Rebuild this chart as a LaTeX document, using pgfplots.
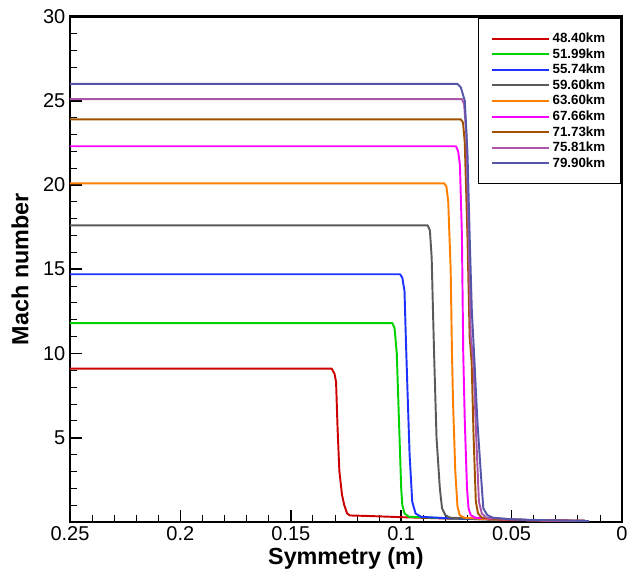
\documentclass[border=0pt]{standalone}
\usepackage{pgfplots}
\pgfplotsset{compat=1.18}
\usepackage{fontspec}
\setmainfont{Liberation Sans}
\definecolor{cA}{RGB}{204,0,0}
\definecolor{cB}{RGB}{0,210,0}
\definecolor{cC}{RGB}{30,50,255}
\definecolor{cD}{RGB}{90,90,90}
\definecolor{cE}{RGB}{255,128,0}
\definecolor{cF}{RGB}{255,0,255}
\definecolor{cG}{RGB}{160,80,0}
\definecolor{cH}{RGB}{170,85,170}
\definecolor{cI}{RGB}{85,85,170}
\begin{document}
\begin{tikzpicture}
\useasboundingbox (-52.5pt,-37.5pt) rectangle (417.75pt,391.4pt);
\begin{axis}[
  at={(0,0)}, anchor=south west,
  scale only axis, width=414pt, height=379pt,
  x dir=reverse,
  xmin=0, xmax=0.25, ymin=0, ymax=30,
  xtick={0,0.05,0.1,0.15,0.2,0.25},
  xticklabels={0,0.05,0.1,0.15,0.2,0.25},
  minor xtick={0.01,0.02,0.03,0.04,0.06,0.07,0.08,0.09,0.11,0.12,0.13,0.14,0.16,0.17,0.18,0.19,0.21,0.22,0.23,0.24},
  ytick={5,10,15,20,25,30},
  minor ytick={1,2,3,4,6,7,8,9,11,12,13,14,16,17,18,19,21,22,23,24,26,27,28,29},
  xtick pos=bottom, ytick pos=left,
  tick align=inside,
  major tick length=9pt, minor tick length=5pt,
  every major tick/.style={line width=1.3pt, black},
  every minor tick/.style={line width=0.6pt, black},
  axis line style={line width=1.6pt},
  tick label style={font=\fontsize{15}{17}\selectfont},
  /pgf/number format/assume math mode=true,
  xlabel={Symmetry (m)},
  ylabel={Mach number},
  xlabel style={font=\bfseries\fontsize{17.5}{19}\selectfont, yshift=2pt},
  ylabel style={font=\bfseries\fontsize{17.5}{19}\selectfont, yshift=4pt},
  legend style={at={(rel axis cs:0.997,0.997)}, anchor=north east,
    draw=black, line width=0.6pt, font=\bfseries\fontsize{10}{12}\selectfont,
    inner xsep=9pt, inner ysep=10pt, row sep=1.5pt,
    nodes={inner ysep=0pt, text height=8pt, text depth=2.2pt}},
  legend cell align=left,
  legend image code/.code={\draw[#1, line width=1.6pt] (0pt,0pt) -- (43pt,0pt);},
  every axis plot/.append style={line width=1.45pt, line join=round},
]
\addplot[cA] coordinates {(0.25,9.1)(0.1315,9.1)(0.1302,8.8)(0.1295,8.3)(0.1288,5.5)(0.1280,3.0)(0.1268,1.6)(0.1258,1.0)(0.1245,0.5)(0.1232,0.38)(0.1150,0.35)(0.1000,0.28)(0.0800,0.2)(0.0600,0.15)(0.0400,0.1)(0.0150,0.05)};
\addlegendentry{48.40km}
\addplot[cB] coordinates {(0.25,11.8)(0.1040,11.8)(0.1030,11.5)(0.1020,10)(0.1010,6)(0.1000,2)(0.0995,1.0)(0.0985,0.5)(0.0965,0.3)(0.0800,0.22)(0.0600,0.15)(0.0400,0.1)(0.0150,0.05)};
\addlegendentry{51.99km}
\addplot[cC] coordinates {(0.25,14.7)(0.1005,14.7)(0.0995,14.5)(0.0985,13.7)(0.0978,10.5)(0.0972,8)(0.0962,4)(0.0950,1.2)(0.0935,0.5)(0.0910,0.3)(0.0800,0.22)(0.0600,0.15)(0.0400,0.1)(0.0150,0.05)};
\addlegendentry{55.74km}
\addplot[cD] coordinates {(0.25,17.6)(0.0880,17.6)(0.0870,17.3)(0.0862,15.7)(0.0855,12)(0.0850,9.5)(0.0840,5)(0.0825,2)(0.0815,0.8)(0.0800,0.4)(0.0780,0.25)(0.0600,0.15)(0.0400,0.1)(0.0150,0.05)};
\addlegendentry{59.60km}
\addplot[cE] coordinates {(0.25,20.1)(0.0805,20.1)(0.0795,19.9)(0.0787,19)(0.0776,15)(0.0770,10)(0.0765,7)(0.0755,3)(0.0745,0.9)(0.0735,0.4)(0.0715,0.25)(0.0600,0.15)(0.0400,0.1)(0.0150,0.05)};
\addlegendentry{63.60km}
\addplot[cF] coordinates {(0.25,22.3)(0.0752,22.3)(0.0742,22.0)(0.0734,21.2)(0.0725,17)(0.0719,10)(0.0712,6)(0.0702,2)(0.0695,0.8)(0.0685,0.4)(0.0665,0.25)(0.0550,0.15)(0.0400,0.1)(0.0150,0.05)};
\addlegendentry{67.66km}
\addplot[cG] coordinates {(0.25,23.9)(0.0730,23.9)(0.0720,23.7)(0.0712,22.5)(0.0700,17)(0.0690,11)(0.0681,9.5)(0.0672,5)(0.0662,1.2)(0.0652,0.5)(0.0635,0.25)(0.0550,0.15)(0.0400,0.1)(0.0150,0.05)};
\addlegendentry{71.73km}
\addplot[cH] coordinates {(0.25,25.1)(0.0725,25.1)(0.0715,24.8)(0.0705,23)(0.0692,15.5)(0.0685,11)(0.0673,9.5)(0.0660,5)(0.0648,1.2)(0.0635,0.5)(0.0615,0.25)(0.0500,0.15)(0.0400,0.1)(0.0150,0.05)};
\addlegendentry{75.81km}
\addplot[cI] coordinates {(0.25,26.0)(0.0745,26.0)(0.0730,25.8)(0.0712,25.0)(0.0700,22)(0.0690,17)(0.0680,12.5)(0.0668,9.5)(0.0655,6)(0.0640,3)(0.0628,0.8)(0.0610,0.4)(0.0585,0.25)(0.0500,0.15)(0.0350,0.1)(0.0150,0.05)};
\addlegendentry{79.90km}
\end{axis}
\end{tikzpicture}
\end{document}
